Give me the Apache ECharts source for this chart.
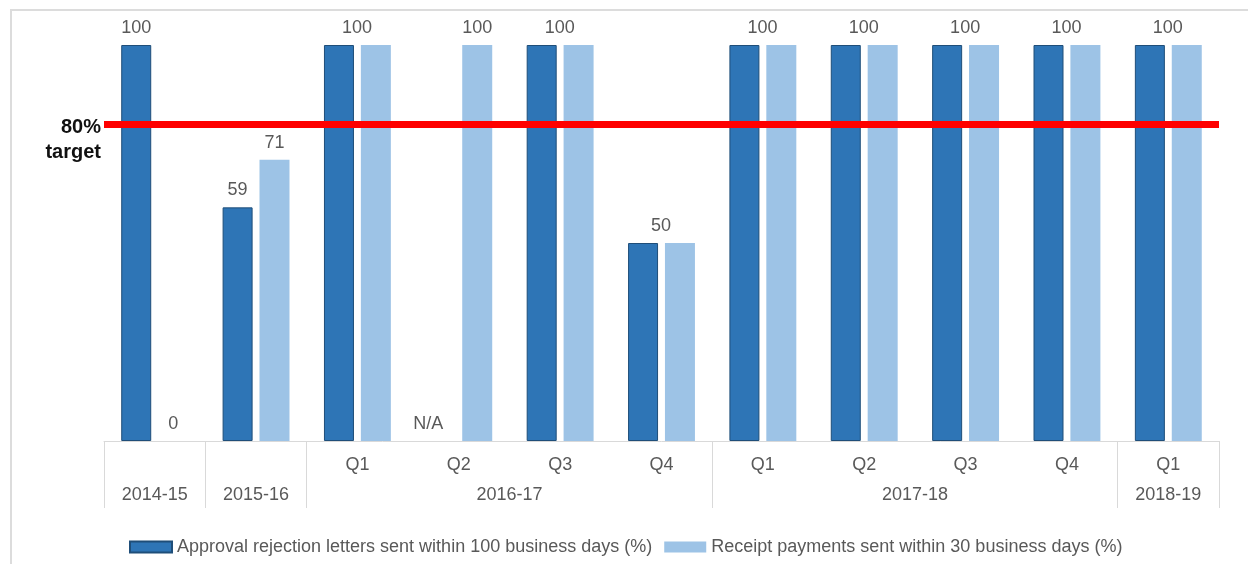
<!DOCTYPE html>
<html>
<head>
<meta charset="utf-8">
<script src="https://cdn.jsdelivr.net/npm/echarts@6/dist/echarts.min.js"></script>
<style>
  html, body { margin: 0; padding: 0; background: #fff; }
  #main { width: 1248px; height: 564px; }
</style>
</head>
<body>
<div id="main"></div>
<script>
// data
const periods = ['2014-15', '2015-16', '16Q1', '16Q2', '16Q3', '16Q4', '17Q1', '17Q2', '17Q3', '17Q4', '18Q1'];
const quarterLabels = ['', '', 'Q1', 'Q2', 'Q3', 'Q4', 'Q1', 'Q2', 'Q3', 'Q4', 'Q1'];
const yearLabels = ['2014-15', '2015-16', '2016-17', '2017-18', '2018-19'];
const yearSpans = [1, 1, 4, 4, 1];
const approval = [100, 59, 100, null, 100, 50, 100, 100, 100, 100, 100];
const receipt = [0, 71, 100, 100, 100, 50, 100, 100, 100, 100, 100];
const target = 80;

const main = document.getElementById('main');
const myChart = echarts.init(main);

const font = '"Liberation Sans", Arial, sans-serif';
const textGrey = '#595959';
const lineGrey = '#d9d9d9';

// group boundaries and centres for the year row
const bounds = [0];
yearSpans.forEach((s) => bounds.push(bounds[bounds.length - 1] + s));
const centres = {};
yearLabels.forEach((y, i) => {
  centres[(bounds[i] + bounds[i + 1]) / 2] = y;
});

const approvalData = approval.map((v, i) => {
  if (v === null) {
    return {
      value: 0,
      itemStyle: { borderWidth: 0 },
      label: { show: true, formatter: 'N/A', offset: [-12, 0] },
    };
  }
  const same = v === receipt[i];
  return {
    value: v,
    label: { show: true, offset: same ? [18, 0] : [0, 0] },
  };
});

const receiptData = receipt.map((v, i) => ({
  value: v,
  label: { show: v !== approval[i] },
}));

const option = {
  animation: false,
  textStyle: { fontFamily: font },
  graphic: [
    {
      type: 'rect',
      shape: { x: 11, y: 10, width: 1260, height: 580 },
      style: { fill: 'none', stroke: '#dcdcdc', lineWidth: 2 },
      silent: true,
    },
  ],
  grid: { left: 104, right: 29, top: 45, bottom: 123 },
  legend: {
    left: 124,
    top: 533,
    icon: 'rect',
    itemWidth: 42,
    itemHeight: 11,
    itemGap: 12,
    textStyle: { fontSize: 18, color: textGrey, fontFamily: font },
    data: [
      'Approval rejection letters sent within 100 business days (%)',
      'Receipt payments sent within 30 business days (%)',
    ],
  },
  xAxis: [
    {
      type: 'category',
      data: periods,
      position: 'bottom',
      axisLine: { show: true, lineStyle: { color: lineGrey, width: 1 } },
      axisTick: { show: false },
      axisLabel: {
        margin: 15,
        fontSize: 18,
        color: textGrey,
        fontFamily: font,
        formatter: (val, idx) => quarterLabels[idx],
      },
    },
    {
      type: 'value',
      min: 0,
      max: periods.length,
      position: 'bottom',
      axisLine: { show: false },
      splitLine: { show: false },
      axisTick: {
        show: true,
        customValues: bounds,
        length: 67,
        lineStyle: { color: lineGrey, width: 1 },
      },
      axisLabel: {
        customValues: Object.keys(centres).map(Number),
        margin: 45,
        fontSize: 18,
        color: textGrey,
        fontFamily: font,
        formatter: (val) => centres[val] || '',
      },
    },
  ],
  yAxis: { type: 'value', min: 0, max: 100, show: false },
  series: [
    {
      name: 'Approval rejection letters sent within 100 business days (%)',
      type: 'bar',
      xAxisIndex: 0,
      data: approvalData,
      barGap: '23%',
      barCategoryGap: '34%',
      itemStyle: { color: '#2e75b6', borderColor: '#1f4e79', borderWidth: 1 },
      label: {
        position: 'top',
        distance: 8,
        fontSize: 18,
        color: textGrey,
        fontFamily: font,
      },
      markLine: {
        silent: true,
        symbol: 'none',
        data: [{ yAxis: target }],
        lineStyle: { color: '#ff0000', width: 7, type: 'solid' },
        label: {
          show: true,
          position: 'start',
          distance: 3,
          formatter: '80%\ntarget',
          fontSize: 20,
          fontWeight: 'bold',
          lineHeight: 25,
          align: 'right',
          color: '#111',
          fontFamily: font,
          offset: [0, 16],
        },
      },
    },
    {
      name: 'Receipt payments sent within 30 business days (%)',
      type: 'bar',
      xAxisIndex: 0,
      data: receiptData,
      itemStyle: { color: '#9dc3e6' },
      label: {
        position: 'top',
        distance: 8,
        fontSize: 18,
        color: textGrey,
        fontFamily: font,
      },
    },
  ],
};

myChart.setOption(option);
</script>
</body>
</html>
